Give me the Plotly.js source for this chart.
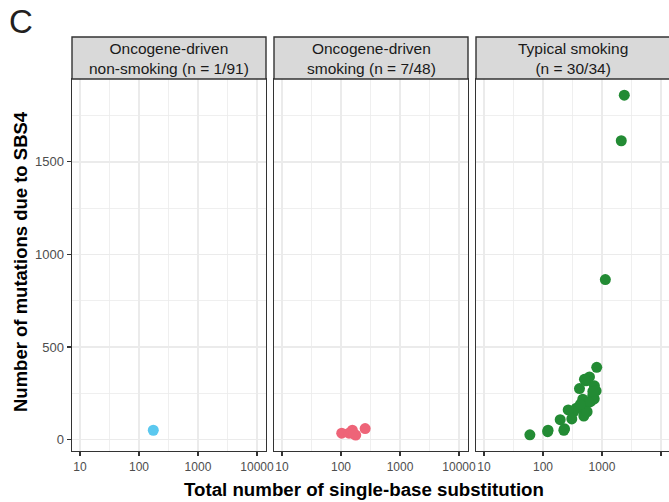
<!DOCTYPE html>
<html>
<head>
<meta charset="utf-8">
<script src="https://cdn.plot.ly/plotly-3.0.1.min.js"></script>
<style>html,body{margin:0;padding:0;background:#fff}#chart{width:669px;height:502px}</style>
</head>
<body>
<div id="chart"></div>
<script>
// Panel titles
const panelTitles = [
  "Oncogene-driven<br>non-smoking (n = 1/91)",
  "Oncogene-driven<br>smoking (n = 7/48)",
  "Typical smoking<br>(n = 30/34)"
];
const panelColors = ["#5bc8ef", "#ee6478", "#238b34"];

// Oncogene-driven non-smoking
const nonSmokeX = [175];
const nonSmokeY = [50];

// Oncogene-driven smoking
const smokeX = [103, 137, 156, 178, 257, 150, 165];
const smokeY = [34, 34, 50, 24, 59, 40, 30];

// Typical smoking
const typicalX = [2390, 2124, 1141, 815, 614, 540, 505, 416, 745, 795, 697, 655, 740, 473, 600,
                  492, 492, 366, 330, 268, 308, 196, 232, 226, 122, 120, 60, 700, 560, 430];
const typicalY = [1860, 1614, 864, 390, 338, 317, 325, 275, 290, 263, 235, 208, 220, 218, 200,
                  160, 127, 169, 149, 160, 111, 107, 58, 50, 50, 42, 25, 260, 150, 190];

// Axis ticks
const xTickVals = [10, 100, 1000, 10000];
const xTickText = ["10", "100", "1000", "10000"];
const xMinorVals = [3.1623, 31.623, 316.23, 3162.3, 31623];
const yTickVals = [0, 500, 1000, 1500];
const yMinorVals = [250, 750, 1250, 1750];

const W = 669, H = 502;
const px = v => v / W;
const py = v => 1 - v / H;

const panelLeft = [72, 274, 476];
const panelRight = [266, 468, 669];
const panelTop = 79, panelBottom = 450.7, stripTop = 37;

const FONT = 'Liberation Sans, Arial, sans-serif';
const dataSets = [[nonSmokeX, nonSmokeY], [smokeX, smokeY], [typicalX, typicalY]];

const traces = dataSets.map((d, i) => ({
  x: d[0], y: d[1], type: 'scatter', mode: 'markers',
  xaxis: i === 0 ? 'x' : 'x' + (i + 1),
  yaxis: i === 0 ? 'y' : 'y' + (i + 1),
  marker: {color: panelColors[i], size: 11, line: {width: 0}},
  showlegend: false, hoverinfo: 'skip'
}));

const decadePx = 59.0;
const xr0 = 0.865;

function xAxis(i) {
  const w = panelRight[i] - panelLeft[i];
  return {
    type: 'log',
    domain: [px(panelLeft[i]), px(panelRight[i])],
    range: [xr0, xr0 + w / decadePx],
    anchor: i === 0 ? 'y' : 'y' + (i + 1),
    tickmode: 'array', tickvals: xTickVals, ticktext: xTickText,
    ticks: 'outside', ticklen: 4, tickwidth: 1.1, tickcolor: '#333333',
    tickfont: {size: 12, color: '#4d4d4d', family: FONT},
    showgrid: true, gridcolor: '#ebebeb', gridwidth: 1.5,
    minor: {tickmode: 'array', tickvals: xMinorVals, showgrid: true, gridcolor: '#ebebeb', gridwidth: 0.8, ticks: ''},
    showline: true, linecolor: '#333333', linewidth: 1.4, mirror: true,
    zeroline: false, fixedrange: true
  };
}

function yAxis(i) {
  return {
    domain: [py(panelBottom), py(panelTop)],
    range: [-60.5, 1947.6],
    anchor: i === 0 ? 'x' : 'x' + (i + 1),
    tickmode: 'array', tickvals: yTickVals,
    ticks: i === 0 ? 'outside' : '', ticklen: 4, tickwidth: 1.1, tickcolor: '#333333',
    showticklabels: i === 0,
    tickfont: {size: 13, color: '#4d4d4d', family: FONT},
    showgrid: true, gridcolor: '#ebebeb', gridwidth: 1.5,
    minor: {tickmode: 'array', tickvals: yMinorVals, showgrid: true, gridcolor: '#ebebeb', gridwidth: 0.8, ticks: ''},
    showline: true, linecolor: '#333333', linewidth: 1.4, mirror: i < 2 ? true : false,
    zeroline: false, fixedrange: true
  };
}

const shapes = [];
const annotations = [];
for (let i = 0; i < 3; i++) {
  shapes.push({
    type: 'rect', xref: 'paper', yref: 'paper',
    x0: px(panelLeft[i]), x1: i === 2 ? 1.01 : px(panelRight[i]),
    y0: py(panelTop), y1: py(stripTop),
    fillcolor: '#d9d9d9', line: {color: '#333333', width: 1.4}, layer: 'above'
  });
  const cx = i === 2 ? 573 : (panelLeft[i] + panelRight[i]) / 2;
  annotations.push({
    xref: 'paper', yref: 'paper', x: px(cx), y: py((panelTop + stripTop) / 2),
    text: panelTitles[i], showarrow: false, xanchor: 'center', yanchor: 'middle',
    font: {size: 15.5, color: '#1a1a1a', family: FONT}
  });
}
annotations.push({
  xref: 'paper', yref: 'paper', x: px(364), y: py(489),
  text: '<b>Total number of single-base substitution</b>', showarrow: false,
  xanchor: 'center', yanchor: 'middle',
  font: {size: 18.7, color: '#000000', family: FONT}
});
annotations.push({
  xref: 'paper', yref: 'paper', x: px(20), y: py(262),
  text: '<b>Number of mutations due to SBS4</b>', showarrow: false, textangle: -90,
  xanchor: 'center', yanchor: 'middle',
  font: {size: 18.5, color: '#000000', family: FONT}
});
annotations.push({
  xref: 'paper', yref: 'paper', x: px(7), y: py(22),
  text: 'C', showarrow: false, xanchor: 'left', yanchor: 'middle',
  font: {size: 33, color: '#231f20', family: FONT}
});

const layout = {
  width: W, height: H,
  margin: {l: 0, r: 0, t: 0, b: 0},
  paper_bgcolor: '#ffffff', plot_bgcolor: '#ffffff',
  xaxis: xAxis(0), xaxis2: xAxis(1), xaxis3: xAxis(2),
  yaxis: yAxis(0), yaxis2: yAxis(1), yaxis3: yAxis(2),
  shapes: shapes, annotations: annotations,
  font: {family: FONT}
};

Plotly.newPlot('chart', traces, layout, {staticPlot: true, displayModeBar: false});
</script>
</body>
</html>
